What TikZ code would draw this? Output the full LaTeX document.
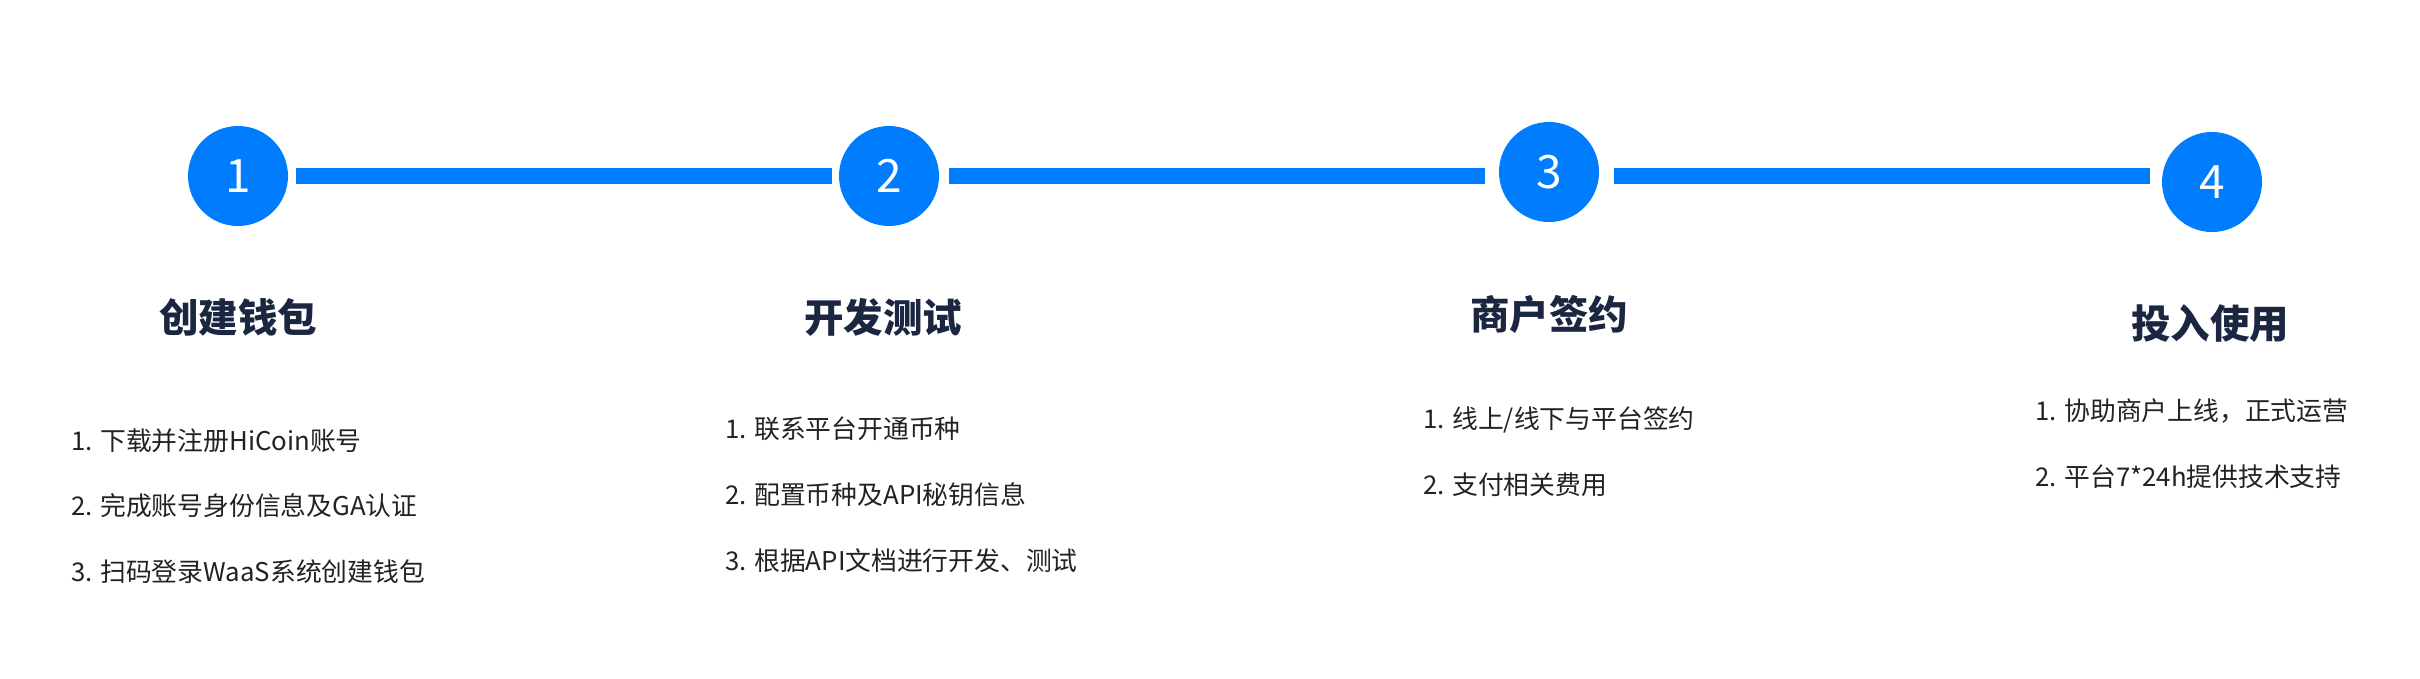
\documentclass[tikz,border=0pt]{standalone}
\usepackage{fontspec}
\setmainfont{Noto Sans CJK SC}
\usetikzlibrary{calc}
\definecolor{stepblue}{HTML}{007CFF}
\definecolor{titlecol}{HTML}{1B2741}
\definecolor{itemcol}{HTML}{222222}
\begin{document}
\begin{tikzpicture}[x=1pt,y=-1pt,
  stepcircle/.style={circle,fill=stepblue,minimum size=100pt,inner sep=0pt,text=white,font=\fontsize{46}{50}\selectfont},
  steptitle/.style={text=titlecol,font=\fontsize{39.5}{44}\selectfont\bfseries,inner sep=0pt},
  stepitem/.style={text=itemcol,font=\fontsize{25.8}{30}\selectfont,anchor=west,inner sep=0pt},
  conn/.style={draw=stepblue,line width=16pt,line cap=butt}]
\useasboundingbox (0,0) rectangle (2420,678);
\node[stepcircle] (c1) at (238,176) {1};
\node[stepcircle] (c2) at (889,176) {2};
\node[stepcircle] (c3) at (1549,172) {3};
\node[stepcircle] (c4) at (2212,182) {4};
\draw[conn,shorten <=8pt,shorten >=7pt] (c1.east) -- (c2.west);
\draw[conn,shorten <=10pt,shorten >=14pt] (c2.east) -- (c2.east -| c3.west);
\draw[conn,shorten <=15pt,shorten >=12pt] (c3.east |- c2.east) -- (c4.west |- c2.east);
\node[steptitle] (t1) at (238,317) {创建钱包};
\node[steptitle] (t2) at (883,317) {开发测试};
\node[steptitle] (t3) at (1549,314) {商户签约};
\node[steptitle] (t4) at (2210,324) {投入使用};
\node[stepitem] (a1) at (71,441) {1. 下载并注册HiCoin账号};
\node[stepitem] (a2) at (71,506) {2. 完成账号身份信息及GA认证};
\node[stepitem] (a3) at (71,572) {3. 扫码登录WaaS系统创建钱包};
\node[stepitem] (b1) at (725,429) {1. 联系平台开通币种};
\node[stepitem] (b2) at (725,495) {2. 配置币种及API秘钥信息};
\node[stepitem] (b3) at (725,561) {3. 根据API文档进行开发、测试};
\node[stepitem] (d1) at (1423,420) {1. 线上/线下与平台签约};
\node[stepitem] (d2) at (1423,485) {2. 支付相关费用};
\node[stepitem] (e1) at (2035,411) {1. 协助商户上线，正式运营};
\node[stepitem] (e2) at (2035,477) {2. 平台7*24h提供技术支持};
\end{tikzpicture}
\end{document}
